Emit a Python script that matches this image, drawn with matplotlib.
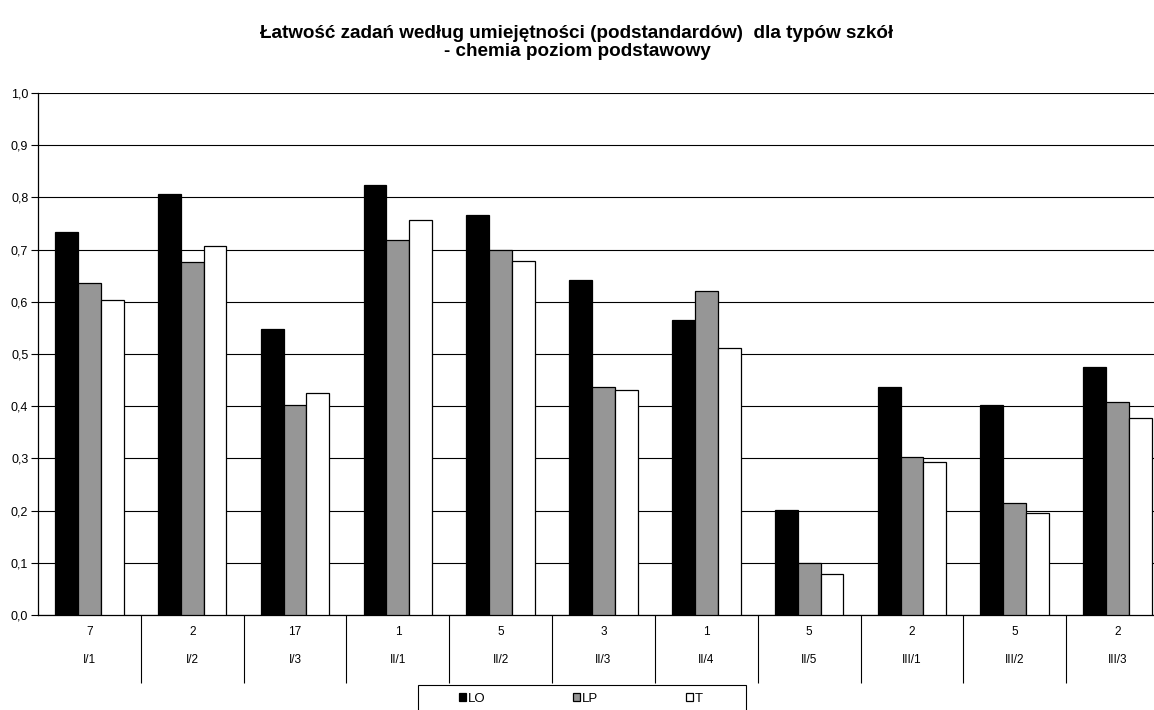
import matplotlib
matplotlib.use("Agg")
import matplotlib.pyplot as plt
import matplotlib.transforms as mtransforms
from matplotlib.patches import Rectangle
import numpy as np

plt.rcParams['font.family'] = ['Liberation Sans', 'DejaVu Sans']

skills = ["I/1", "I/2", "I/3", "II/1", "II/2", "II/3", "II/4", "II/5", "III/1", "III/2", "III/3"]
task_counts = [7, 2, 17, 1, 5, 3, 1, 5, 2, 5, 2]

lo = [0.733, 0.806, 0.547, 0.823, 0.766, 0.641, 0.565, 0.201, 0.436, 0.402, 0.476]
lp = [0.636, 0.677, 0.403, 0.718, 0.699, 0.436, 0.620, 0.099, 0.302, 0.214, 0.408]
t = [0.603, 0.707, 0.426, 0.756, 0.679, 0.431, 0.511, 0.078, 0.293, 0.195, 0.378]

series = [("LO", lo, "black"), ("LP", lp, "#969696"), ("T", t, "white")]

W, H = 1154, 710
fig = plt.figure(figsize=(W / 100, H / 100), dpi=100)
ax = fig.add_axes([38 / W, (H - 615) / H, 1131 / W, 522 / H])

x = np.arange(len(skills))
bw = 1 / 4.5
for i, (name, vals, col) in enumerate(series):
    ax.bar(x + (i - 1) * bw, vals, bw, color=col, edgecolor="black",
           linewidth=0.9, label=name, zorder=3)

ax.set_xlim(-0.5, len(skills) - 0.5)
ax.set_ylim(0, 1.0)
yt = np.arange(0, 1.01, 0.1)
ax.set_yticks(yt)
ax.set_yticklabels([f"{v:.1f}".replace(".", ",") for v in yt], fontsize=9)
ax.tick_params(axis="y", length=5, width=0.8, pad=2)
ax.yaxis.grid(True, color="black", linewidth=0.8, zorder=0)

# category separators below the axis
ax.set_xticks([])
ax.set_xticks(np.arange(0.5, len(skills) - 1, 1), minor=True)
ax.tick_params(axis="x", which="minor", length=49, width=0.8, direction="out")

trans = mtransforms.blended_transform_factory(ax.transData, ax.transAxes)
for xi, n, s in zip(x, task_counts, skills):
    ax.text(xi, -0.033, str(n), transform=trans, ha="center", va="center", fontsize=8.5)
    ax.text(xi, -0.086, s, transform=trans, ha="center", va="center", fontsize=8.5)

for side in ("top", "right"):
    ax.spines[side].set_visible(False)
ax.spines["left"].set_linewidth(0.9)
ax.spines["bottom"].set_linewidth(0.9)
ax.axhline(1.0, color="#808080", linewidth=1.2, zorder=1)

fig.text(0.5, (H - 33) / H, "Łatwość zadań według umiejętności (podstandardów)  dla typów szkół",
         ha="center", va="center", fontsize=13.6, fontweight="bold")
fig.text(0.5, (H - 51) / H, "- chemia poziom podstawowy",
         ha="center", va="center", fontsize=13.6, fontweight="bold")

leg = fig.legend(loc="center left", bbox_to_anchor=(459 / W, (H - 699) / H),
                 ncol=3, fontsize=9.5, frameon=False,
                 handlelength=0.55, handleheight=0.55, handletextpad=0.15,
                 columnspacing=6.6, borderaxespad=0, borderpad=0)
for h in leg.legend_handles:
    h.set_linewidth(0.9)
fig.patches.append(Rectangle((418 / W, -0.01), 328 / W, (H - 685) / H + 0.01,
                             transform=fig.transFigure, fill=False,
                             edgecolor="black", linewidth=0.8))

fig.savefig("out.png", dpi=100)
